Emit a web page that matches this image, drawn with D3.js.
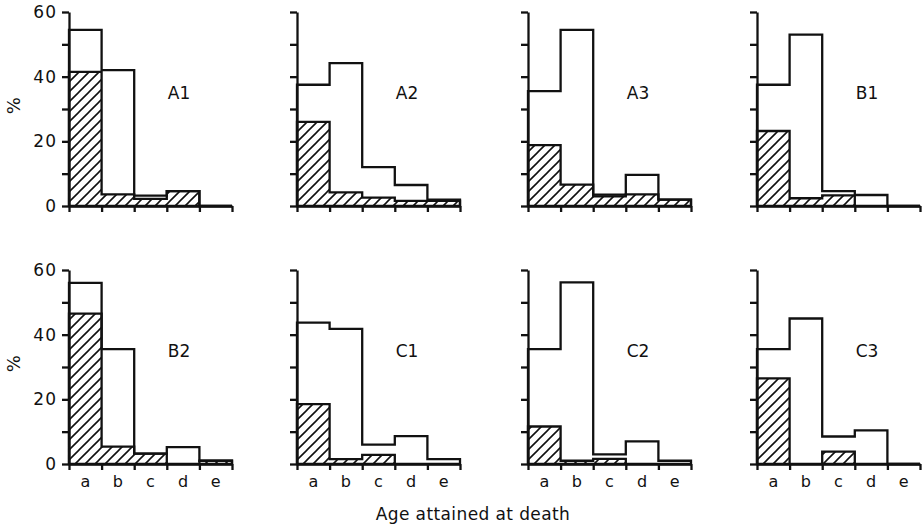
<!DOCTYPE html>
<html>
<head>
<meta charset="utf-8">
<script src="https://cdn.jsdelivr.net/npm/d3@7"></script>
<style>
  body { margin: 0; background: #fff; }
  text { font-family: "DejaVu Sans", sans-serif; fill: #111; }
</style>
</head>
<body>
<svg id="chart" width="924" height="530"></svg>
<script>
// age classes on the x axis
var categories = ["a", "b", "c", "d", "e"];
var panelNames = ["A1", "A2", "A3", "B1", "B2", "C1", "C2", "C3"];

// open outline: all deaths (%) per age class
var totalPct = [
  [54.5, 42, 3.2, 4.6, 0],
  [37.5, 44.2, 12, 6.5, 2],
  [35.5, 54.5, 3.5, 9.6, 2],
  [37.5, 53, 4.6, 3.4, 0],
  [56, 35.5, 3.2, 5.2, 1],
  [43.7, 41.8, 6, 8.6, 1.5],
  [35.5, 56.2, 3, 7, 1],
  [35.5, 45, 8.5, 10.4, 0]
];
// hatched part of each bar
var hatchedPct = [
  [41.5, 3.6, 2.2, 4.6, 0],
  [26, 4.2, 2.6, 1.6, 1.6],
  [18.8, 6.6, 3, 3.6, 2],
  [23.2, 2.4, 3.3, 0, 0],
  [46.5, 5.4, 3.2, 0, 1],
  [18.5, 1.5, 2.8, 0, 0],
  [11.6, 1, 1.6, 0, 0],
  [26.5, 0, 3.8, 0, 0]
];

var yTicks = [0, 10, 20, 30, 40, 50, 60];
var yTickLabels = ["0", "", "20", "", "40", "", "60"];
var xTitle = "Age attained at death";
var yTitle = "%";

var colX = [69, 297, 528, 757],
    rowTop = [12, 270],
    plotW = 163,
    plotH = 194,
    lineW = 2.3;

var svg = d3.select("#chart");

// diagonal hatching
svg.append("defs").append("pattern")
  .attr("id", "hatch")
  .attr("patternUnits", "userSpaceOnUse")
  .attr("width", 10).attr("height", 10)
  .append("path")
  .attr("d", "M-2,2 l4,-4 M0,10 l10,-10 M8,12 l4,-4")
  .attr("stroke", "#111")
  .attr("stroke-width", 1.6);

var x = d3.scaleLinear().domain([0, categories.length]).range([0, plotW]);
var xBand = d3.scaleBand().domain(categories).range([0, plotW]);
var y = d3.scaleLinear().domain([0, 60]).range([plotH, 0]);

var stepLine = d3.line()
  .x(function(d) { return x(d[0]); })
  .y(function(d) { return y(d[1]); })
  .curve(d3.curveStepAfter);

var stepArea = d3.area()
  .x(function(d) { return x(d[0]); })
  .y0(y(0))
  .y1(function(d) { return y(d[1]); })
  .curve(d3.curveStepAfter);

panelNames.forEach(function(name, p) {
  var row = Math.floor(p / 4), col = p % 4;
  var g = svg.append("g")
    .attr("transform", "translate(" + colX[col] + "," + rowTop[row] + ")");

  var hatched = hatchedPct[p].map(function(v, i) { return [i, v]; });
  hatched.push([categories.length, hatchedPct[p][categories.length - 1]]);

  g.append("path")
    .attr("d", stepArea(hatched))
    .attr("fill", "url(#hatch)")
    .attr("stroke", "#111")
    .attr("stroke-width", lineW);

  var tot = totalPct[p];
  var outline = [[0, 0]].concat(tot.map(function(v, i) { return [i, v]; }),
    [[categories.length, tot[tot.length - 1]], [categories.length, 0]]);

  g.append("path")
    .attr("d", stepLine(outline))
    .attr("fill", "none")
    .attr("stroke", "#111")
    .attr("stroke-width", lineW);

  // y axis, numbers only on the left column
  var yAxis = d3.axisLeft(y)
    .tickValues(yTicks)
    .tickSize(7)
    .tickSizeOuter(0)
    .tickPadding(5)
    .tickFormat(function(d, i) { return col === 0 ? yTickLabels[i] : ""; });
  var ya = g.append("g").call(yAxis);

  // x axis with ticks at the class boundaries
  var xAxis = d3.axisBottom(x)
    .tickValues(d3.range(categories.length + 1))
    .tickSize(6)
    .tickSizeOuter(0)
    .tickFormat("");
  var xa = g.append("g").attr("transform", "translate(0," + plotH + ")").call(xAxis);

  [ya, xa].forEach(function(a) {
    a.select(".domain").attr("stroke", "#111").attr("stroke-width", lineW);
    a.selectAll(".tick line").attr("stroke", "#111").attr("stroke-width", lineW);
    a.selectAll("text").style("font-family", "DejaVu Sans, sans-serif")
      .style("font-size", "17px").style("letter-spacing", "1px").attr("fill", "#111");
  });

  if (row === 1) {
    var lab = g.append("g").attr("transform", "translate(0," + plotH + ")")
      .call(d3.axisBottom(xBand).tickSize(0).tickPadding(12));
    lab.select(".domain").remove();
    lab.selectAll("text").style("font-family", "DejaVu Sans, sans-serif")
      .style("font-size", "16px").attr("fill", "#111");
  }

  g.append("text")
    .attr("x", 110)
    .attr("y", y(34.5))
    .attr("text-anchor", "middle")
    .attr("dominant-baseline", "middle")
    .style("font-size", "17px")
    .text(name);

  if (col === 0) {
    g.append("text")
      .attr("transform", "translate(" + (-54) + "," + y(31) + ") rotate(-90)")
      .attr("text-anchor", "middle")
      .attr("dominant-baseline", "middle")
      .style("font-size", "18px")
      .text(yTitle);
  }
});

svg.append("text")
  .attr("x", 473)
  .attr("y", 520)
  .attr("text-anchor", "middle")
  .style("font-size", "17px")
  .style("letter-spacing", "0.4px")
  .text(xTitle);
</script>
</body>
</html>
